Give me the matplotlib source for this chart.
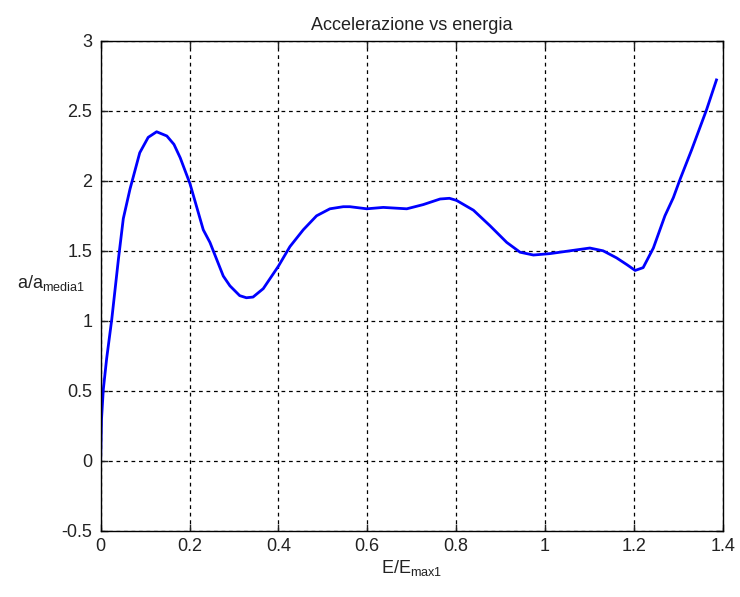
import matplotlib
matplotlib.use("Agg")
import matplotlib.pyplot as plt

plt.rcParams['font.family'] = ['Liberation Sans', 'DejaVu Sans']
plt.rcParams['mathtext.fontset'] = 'custom'
plt.rcParams['mathtext.rm'] = 'Liberation Sans'
plt.rcParams['mathtext.it'] = 'Liberation Sans'

# energy ratio E/Emax1 and normalised acceleration a/a_media1
energy = [0.0, 0.002, 0.006, 0.0135, 0.025, 0.04, 0.051, 0.066, 0.088, 0.107,
          0.126, 0.149, 0.165, 0.179, 0.201, 0.231, 0.246, 0.261, 0.276, 0.291,
          0.313, 0.328, 0.343, 0.366, 0.4, 0.426, 0.456, 0.471, 0.486, 0.516,
          0.546, 0.561, 0.599, 0.636, 0.689, 0.726, 0.764, 0.785, 0.801, 0.839,
          0.876, 0.914, 0.944, 0.974, 1.011, 1.056, 1.101, 1.131, 1.161, 1.185,
          1.203, 1.221, 1.244, 1.27, 1.289, 1.304, 1.33, 1.364, 1.386]
accel = [0.0, 0.3, 0.51, 0.73, 1.01, 1.44, 1.73, 1.94, 2.2, 2.31,
         2.35, 2.32, 2.26, 2.165, 1.98, 1.65, 1.56, 1.44, 1.32, 1.25,
         1.18, 1.165, 1.17, 1.23, 1.39, 1.53, 1.65, 1.70, 1.75, 1.80,
         1.815, 1.815, 1.80, 1.81, 1.80, 1.83, 1.87, 1.875, 1.86, 1.79,
         1.68, 1.56, 1.49, 1.47, 1.48, 1.50, 1.52, 1.50, 1.45, 1.40,
         1.36, 1.38, 1.52, 1.75, 1.88, 2.01, 2.22, 2.51, 2.72]

xticks = [0, 0.2, 0.4, 0.6, 0.8, 1, 1.2, 1.4]
yticks = [-0.5, 0, 0.5, 1, 1.5, 2, 2.5, 3]

fig = plt.figure(figsize=(7.40, 5.97), dpi=100)
ax = fig.add_axes([0.136, 0.1106, 0.8406, 0.8212])

ax.plot(energy, accel, color='#0000ff', linewidth=2.0)

ax.set_xlim(0, 1.4)
ax.set_ylim(-0.5, 3)
ax.set_xticks(xticks)
ax.set_xticklabels(['0', '0.2', '0.4', '0.6', '0.8', '1', '1.2', '1.4'])
ax.set_yticks(yticks)
ax.set_yticklabels(['-0.5', '0', '0.5', '1', '1.5', '2', '2.5', '3'])
ax.tick_params(direction='in', top=True, right=True, length=5, width=1,
               labelsize=13, colors='#222222')
ax.tick_params(axis='x', pad=5)
ax.tick_params(axis='y', pad=6)
ax.grid(True, color='black', linestyle=(0, (3, 3)), linewidth=0.9)
for s in ax.spines.values():
    s.set_linewidth(1)

ax.set_title('Accelerazione vs energia', fontsize=13, pad=8, color='#222222')
ax.set_xlabel(r'E/E$_{\mathrm{max1}}$', fontsize=13, labelpad=2, color='#222222')
ax.set_ylabel(r'a/a$_{\mathrm{media1}}$', fontsize=13, rotation=0,
              ha='right', va='center', color='#222222')
ax.yaxis.set_label_coords(-0.025, 0.505)

fig.savefig('out.png', dpi=100)
